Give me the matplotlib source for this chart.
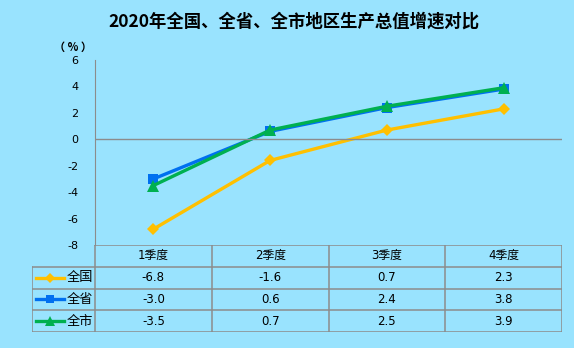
import matplotlib
matplotlib.use("Agg")
import matplotlib.pyplot as plt
from matplotlib.lines import Line2D

plt.rcParams['font.family'] = ['DejaVu Sans', 'Noto Sans CJK SC']

quarters = ["1季度", "2季度", "3季度", "4季度"]
series_names = ["全国", "全省", "全市"]
national = [-6.8, -1.6, 0.7, 2.3]
province = [-3.0, 0.6, 2.4, 3.8]
city = [-3.5, 0.7, 2.5, 3.9]
yticks = [-8, -6, -4, -2, 0, 2, 4, 6]

bg = "#99E3FE"
grid = "#8C8C8C"
styles = [
    dict(color="#FFC000", marker="D", markersize=6),
    dict(color="#0070F0", marker="s", markersize=7),
    dict(color="#00B050", marker="^", markersize=8),
]

W, H = 574, 348
fig = plt.figure(figsize=(W / 100, H / 100), dpi=100)
fig.patch.set_facecolor(bg)

def px(x0, y0, x1, y1):
    return [x0 / W, 1 - y1 / H, (x1 - x0) / W, (y1 - y0) / H]

ax = fig.add_axes(px(95, 60, 562, 245))
ax.set_facecolor(bg)
xs = list(range(len(quarters)))
for vals, st in zip([national, province, city], styles):
    ax.plot(xs, vals, lw=2.4, markeredgewidth=0, clip_on=False, **st)

ax.set_xlim(-0.5, 3.5)
ax.set_ylim(-8, 6)
ax.set_yticks(yticks)
ax.set_yticklabels([str(t) for t in yticks], fontsize=8)
ax.tick_params(axis="y", length=0, pad=12)
ax.set_xticks([])
for s in ["top", "right", "bottom"]:
    ax.spines[s].set_visible(False)
ax.spines["left"].set_color(grid)
ax.axhline(0, color=grid, lw=1)

fig.text(294 / W, 1 - 22 / H, "2020年全国、全省、全市地区生产总值增速对比",
         ha="center", va="center", fontsize=12.5, fontweight="bold",
         family=['Noto Sans CJK SC'])
fig.text(73 / W, 1 - 47 / H, "（ % ）", ha="center", va="center", fontsize=8,
         fontweight="bold", family=['Noto Sans CJK SC'])

# data table under the plot
tx = fig.add_axes(px(32, 245, 562, 332))
tx.set_facecolor("none")
tx.axis("off")
left = -0.5 - 63 / 116.75
tx.set_xlim(left, 3.5)
tx.set_ylim(4, 0)
lk = dict(color=grid, lw=1.1)
tx.plot([-0.5, 3.5], [0, 0], **lk)
for r in range(1, 5):
    tx.plot([left, 3.5], [r, r], **lk)
tx.plot([left, left], [1, 4], **lk)
for c in range(5):
    tx.plot([c - 0.5, c - 0.5], [0, 4], **lk)

for i, q in enumerate(quarters):
    tx.text(i, 0.5, q, ha="center", va="center", fontsize=8.5)

for r, (name, vals, st) in enumerate(zip(series_names, [national, province, city], styles)):
    y = r + 1.5
    tx.add_line(Line2D([left + 0.03, left + 0.27], [y, y], lw=2.4,
                       color=st["color"]))
    tx.plot([left + 0.15], [y], marker=st["marker"], color=st["color"],
            markersize=st["markersize"] - 1, markeredgewidth=0)
    tx.text(left + 0.3, y, name, ha="left", va="center", fontsize=9.5)
    for i, v in enumerate(vals):
        tx.text(i, y, f"{v:.1f}", ha="center", va="center", fontsize=8.5)

fig.savefig("out.png", dpi=100, facecolor=bg)
